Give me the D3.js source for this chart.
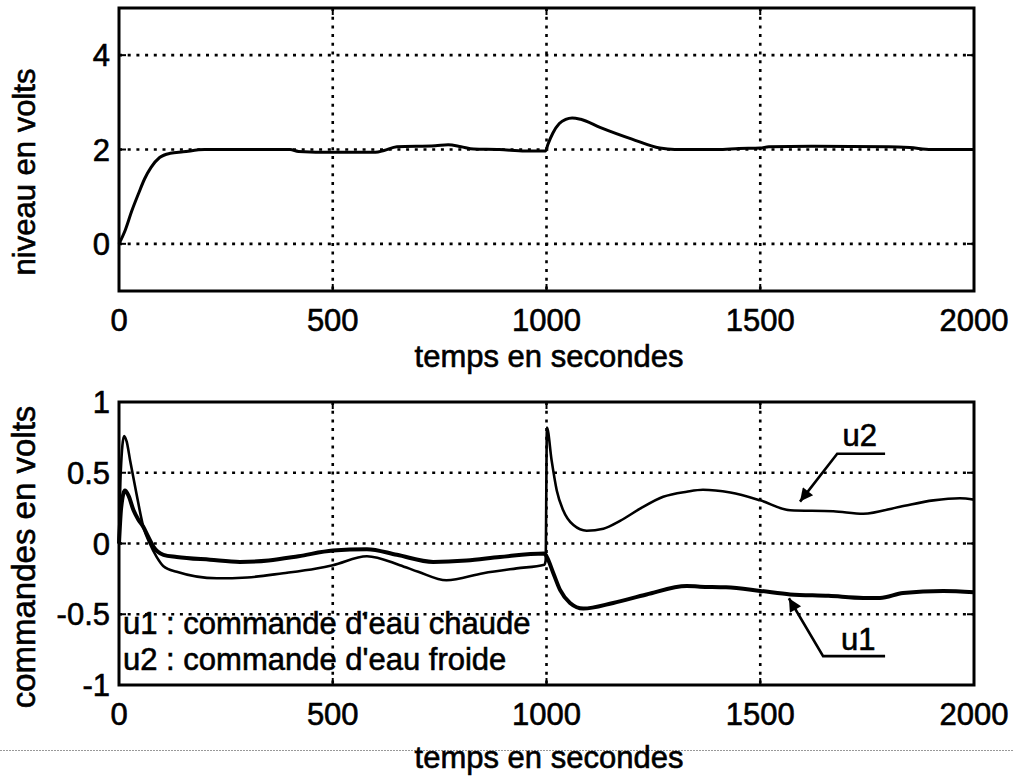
<!DOCTYPE html>
<html>
<head>
<meta charset="utf-8">
<script src="https://cdn.jsdelivr.net/npm/d3@7"></script>
<style>
  body { margin: 0; background: #fff; }
  text { font-family: "Liberation Sans", Arial, sans-serif; fill: #000; stroke: #000; stroke-width: 0.6px; }
</style>
</head>
<body>
<div id="chart"></div>
<script>
// data
var xTicks = [0, 500, 1000, 1500, 2000];
var topTicks = [0, 2, 4];
var bottomTicks = [-1, -0.5, 0, 0.5, 1];
var bottomGrid = [-0.5, 0, 0.5];

// niveau (top)
var niveauT = [0, 15, 30, 45, 60, 75, 95, 120, 150, 200, 400, 420, 500, 600, 620, 650, 740, 770, 800, 830, 890, 950, 998, 1003, 1015, 1030, 1045, 1060, 1080, 1125, 1200, 1265, 1300, 1400, 1450, 1500, 1520, 1620, 1800, 1850, 1900, 2000];
var niveauV = [0, 0.3, 0.7, 1.05, 1.38, 1.62, 1.83, 1.92, 1.95, 2.0, 2.0, 1.96, 1.94, 1.94, 1.98, 2.06, 2.08, 2.1, 2.06, 2.01, 2.0, 1.97, 1.97, 2.1, 2.35, 2.55, 2.64, 2.67, 2.64, 2.47, 2.22, 2.03, 2.0, 2.0, 2.02, 2.03, 2.06, 2.07, 2.06, 2.04, 2.0, 2.0];

// u1 : commande d'eau chaude (thick)
var u1T = [0, 5, 14, 22, 34, 45, 57, 68, 80, 104, 135, 213, 283, 350, 420, 500, 580, 650, 735, 813, 891, 995, 1000, 1016, 1032, 1055, 1086, 1156, 1234, 1328, 1359, 1420, 1500, 1570, 1660, 1741, 1780, 1834, 1928, 2000];
var u1V = [0, 0.25, 0.375, 0.34, 0.235, 0.17, 0.117, 0.05, -0.02, -0.08, -0.095, -0.115, -0.13, -0.12, -0.09, -0.05, -0.04, -0.08, -0.13, -0.12, -0.095, -0.07, -0.09, -0.21, -0.33, -0.42, -0.46, -0.42, -0.36, -0.3, -0.305, -0.31, -0.335, -0.36, -0.37, -0.385, -0.385, -0.35, -0.335, -0.345];

// u2 : commande d'eau froide (thin)
var u2T = [0, 4, 12, 18, 26, 41, 57, 72, 88, 104, 135, 229, 300, 384, 462, 500, 580, 657, 700, 766, 852, 930, 995, 998, 1001, 1012, 1024, 1039, 1063, 1094, 1133, 1172, 1219, 1273, 1328, 1366, 1430, 1500, 1570, 1671, 1741, 1827, 1905, 1967, 2000];
var u2V = [0, 0.5, 0.76, 0.72, 0.587, 0.35, 0.117, 0, -0.094, -0.16, -0.2, -0.246, -0.24, -0.21, -0.176, -0.153, -0.09, -0.153, -0.2, -0.26, -0.21, -0.176, -0.15, -0.12, 0.82, 0.587, 0.375, 0.235, 0.13, 0.09, 0.105, 0.16, 0.246, 0.33, 0.366, 0.38, 0.36, 0.305, 0.235, 0.228, 0.21, 0.26, 0.305, 0.32, 0.31];

var svg = d3.select("#chart")
            .append("svg")
            .attr("width", 1013)
            .attr("height", 780);

var x = d3.scaleLinear().domain([0, 2000]).range([119, 974]);
var yTop = d3.scaleLinear().domain([-1, 5]).range([291, 8]);
var yBot = d3.scaleLinear().domain([-1, 1]).range([685, 402]);

function zip(ts, vs) {
  return ts.map(function (t, i) { return {t: t, v: vs[i]}; });
}

// draw one panel: grid, ticks, frame, labels
function panel(y, yTickVals, yGridVals, yLabel, yLabelSize, yLabelCenter, fmt) {
  var g = svg.append("g");
  var x0 = x.range()[0], x1 = x.range()[1];
  var yB = y.range()[0], yT = y.range()[1];

  // dotted grid
  g.selectAll(".gx").data([500, 1000, 1500]).enter().append("line")
   .attr("x1", function (d) { return x(d); }).attr("x2", function (d) { return x(d); })
   .attr("y1", yT).attr("y2", yB)
   .attr("stroke", "#000").attr("stroke-width", 2.6).attr("stroke-dasharray", "3,5.7");
  g.selectAll(".gy").data(yGridVals).enter().append("line")
   .attr("x1", x0).attr("x2", x1)
   .attr("y1", function (d) { return y(d); }).attr("y2", function (d) { return y(d); })
   .attr("stroke", "#000").attr("stroke-width", 2.6).attr("stroke-dasharray", "3,5.7");

  // inner ticks
  [500, 1000, 1500].forEach(function (d) {
    g.append("line").attr("x1", x(d)).attr("x2", x(d)).attr("y1", yB).attr("y2", yB - 7).attr("stroke", "#000").attr("stroke-width", 2);
    g.append("line").attr("x1", x(d)).attr("x2", x(d)).attr("y1", yT).attr("y2", yT + 7).attr("stroke", "#000").attr("stroke-width", 2);
  });
  yGridVals.forEach(function (d) {
    g.append("line").attr("x1", x0).attr("x2", x0 + 7).attr("y1", y(d)).attr("y2", y(d)).attr("stroke", "#000").attr("stroke-width", 2);
    g.append("line").attr("x1", x1).attr("x2", x1 - 7).attr("y1", y(d)).attr("y2", y(d)).attr("stroke", "#000").attr("stroke-width", 2);
  });

  // tick labels
  g.selectAll(".xl").data(xTicks).enter().append("text")
   .attr("x", function (d) { return x(d); })
   .attr("y", yB + 40)
   .attr("text-anchor", "middle")
   .style("font-size", "31px")
   .text(function (d) { return d; });
  g.selectAll(".yl").data(yTickVals).enter().append("text")
   .attr("x", 110)
   .attr("y", function (d) { return y(d); })
   .attr("dy", "0.36em")
   .attr("text-anchor", "end")
   .style("font-size", "31px")
   .text(fmt);

  // axis labels
  g.append("text")
   .attr("transform", "translate(35," + yLabelCenter + ") rotate(-90)")
   .attr("text-anchor", "middle")
   .style("font-size", yLabelSize + "px")
   .text(yLabel);

  return g;
}

var gTop = panel(yTop, topTicks, topTicks, "niveau en volts", 31, 172, function (d) { return d; });
var gBot = panel(yBot, bottomTicks, bottomGrid, "commandes en volts", 33, 557, function (d) { return d; });

svg.append("text").attr("x", 549).attr("y", 367).attr("text-anchor", "middle")
   .style("font-size", "31px").text("temps en secondes");

// grey separator line
svg.append("line").attr("x1", 0).attr("x2", 1013).attr("y1", 750.5).attr("y2", 750.5)
   .attr("stroke", "#999").attr("stroke-width", 1).attr("stroke-dasharray", "2,1");

svg.append("text").attr("x", 549).attr("y", 768).attr("text-anchor", "middle")
   .style("font-size", "31px").text("temps en secondes");

// curves
var lineTop = d3.line().curve(d3.curveMonotoneX)
  .x(function (d) { return x(d.t); }).y(function (d) { return yTop(d.v); });
var lineBot = d3.line().curve(d3.curveMonotoneX)
  .x(function (d) { return x(d.t); }).y(function (d) { return yBot(d.v); });

svg.append("path").datum(zip(niveauT, niveauV))
   .attr("d", lineTop).attr("fill", "none").attr("stroke", "#000").attr("stroke-width", 3);

svg.append("path").datum(zip(u2T, u2V))
   .attr("d", lineBot).attr("fill", "none").attr("stroke", "#000").attr("stroke-width", 2.6);
svg.append("path").datum(zip(u1T, u1V))
   .attr("d", lineBot).attr("fill", "none").attr("stroke", "#000").attr("stroke-width", 4);

// legend text inside bottom panel
svg.append("text").attr("x", x(0) + 4).attr("y", 634)
   .style("font-size", "31px").text("u1 : commande d'eau chaude");
svg.append("text").attr("x", x(0) + 4).attr("y", 670)
   .style("font-size", "31px").text("u2 : commande d'eau froide");

// annotations (data units)
var notes = [
  {name: "u2", tip: [1593, 0.296], elbow: [1680, 0.634], end: [1792, 0.634], label: [1733, 0.69]},
  {name: "u1", tip: [1567, -0.387], elbow: [1647, -0.796], end: [1792, -0.796], label: [1729, -0.754]}
];

svg.append("defs").append("marker")
   .attr("id", "arrow")
   .attr("viewBox", "0 0 10 10")
   .attr("refX", 10).attr("refY", 5)
   .attr("markerWidth", 19).attr("markerHeight", 13)
   .attr("markerUnits", "userSpaceOnUse")
   .attr("orient", "auto")
   .append("path").attr("d", "M0,0 L10,5 L0,10 Z").attr("fill", "#000");

notes.forEach(function (n) {
  svg.append("polyline")
     .attr("points", [n.end, n.elbow, n.tip].map(function (p) { return x(p[0]) + "," + yBot(p[1]); }).join(" "))
     .attr("fill", "none").attr("stroke", "#000").attr("stroke-width", 2.6)
     .attr("marker-end", "url(#arrow)");
  svg.append("text").attr("x", x(n.label[0])).attr("y", yBot(n.label[1]))
     .attr("text-anchor", "middle").style("font-size", "31px").text(n.name);
});

// frames on top
[yTop, yBot].forEach(function (y) {
  svg.append("rect")
     .attr("x", x.range()[0]).attr("y", y.range()[1])
     .attr("width", x.range()[1] - x.range()[0])
     .attr("height", y.range()[0] - y.range()[1])
     .attr("fill", "none").attr("stroke", "#000").attr("stroke-width", 3);
});
</script>
</body>
</html>
